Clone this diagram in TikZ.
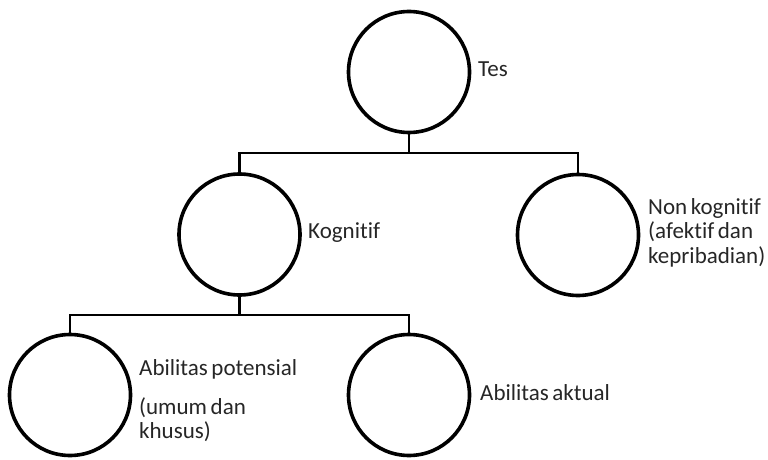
\documentclass[tikz,border=0pt]{standalone}
\usepackage{fontspec}
\setmainfont{Carlito}[WordSpace=0.7, Ligatures={NoCommon}]
\begin{document}
\begin{tikzpicture}[x=1pt,y=-1pt,
  circ/.style={draw=black, line width=3.6pt, circle, minimum size=121pt, inner sep=0pt},
  conn/.style={draw=black, line width=2.6pt},
  lbl/.style={anchor=base west, inner sep=0pt, text=black!85, font=\fontsize{23}{24.5}\selectfont, align=left}]
\useasboundingbox (0,0) rectangle (768,460);
\node[circ] (tes) at (409,72) {};
\node[circ] (kog) at (239.5,234.5) {};
\node[circ] (non) at (578,235) {};
\node[circ] (pot) at (70,395) {};
\node[circ] (akt) at (409,395) {};
\coordinate (j1) at (409,153);
\coordinate (j2) at (239.5,315);
\draw[conn] (tes.south) -- (j1);
\draw[conn] (kog.north) |- (j1) -| (non.north);
\draw[conn] (kog.south) -- (j2);
\draw[conn] (pot.north) |- (j2) -| (akt.north);
\node[lbl] (ltes) at (478,77) {Tes};
\node[lbl] (lkog) at (308,238) {Kognitif};
\node[lbl, anchor=north west] (lnon) at (648,198) {Non kognitif\\(afektif dan\\kepribadian)};
\node[lbl] (lpot) at (139,375) {Abilitas potensial};
\node[lbl, anchor=north west] (lpot2) at (139,397) {(umum dan\\khusus)};
\node[lbl] (lakt) at (480,400) {Abilitas aktual};
\end{tikzpicture}
\end{document}
